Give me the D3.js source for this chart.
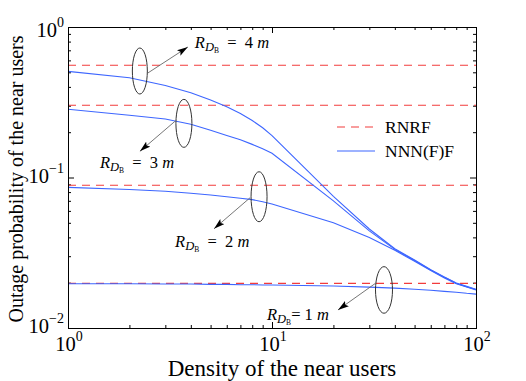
<!DOCTYPE html>
<html>
<head>
<meta charset="utf-8">
<script src="https://cdn.jsdelivr.net/npm/d3@7"></script>
<style>
  body { margin: 0; background: #fff; }
  svg { display: block; }
  svg text { font-family: 'Liberation Serif', 'Times New Roman', serif; fill: #000; }
  .frame { fill: none; stroke: #000; stroke-width: 1; }
  .tick-axis path { display: none; }
  .tick-axis line { stroke: #000; stroke-width: 1; }
  .rnrf { fill: none; stroke: #f23c3c; stroke-width: 1.1; stroke-dasharray: 8 6; }
  .nnnf { fill: none; stroke: #3d66ff; stroke-width: 1.1; }
  .ellipse { fill: none; stroke: #333; stroke-width: 1; }
  .arrow { stroke: #666; stroke-width: 0.9; }
</style>
</head>
<body>
<div id="chart"></div>
<script>
// x: density of the near users
const density = [1, 2, 3, 4, 5, 6, 7, 8, 9, 10, 20, 30, 40, 50, 60, 70, 80, 90, 100]

// NNN(F)F outage probability, one array per R_DB
const nnnR1 = [0.0197, 0.0197, 0.0196, 0.0196, 0.0195, 0.0195, 0.0194, 0.0194, 0.0193, 0.0193, 0.019, 0.0187, 0.0184, 0.0181, 0.0178, 0.0175, 0.0173, 0.017, 0.0168]
const nnnR2 = [0.086, 0.0832, 0.0811, 0.0785, 0.0765, 0.0744, 0.0728, 0.0713, 0.069, 0.0667, 0.050, 0.040, 0.0328, 0.0278, 0.0241, 0.0215, 0.0197, 0.0187, 0.0179]
const nnnR3 = [0.284, 0.259, 0.245, 0.226, 0.206, 0.19, 0.178, 0.166, 0.155, 0.145, 0.070, 0.0442, 0.0333, 0.0281, 0.0243, 0.0217, 0.0198, 0.0188, 0.018]
const nnnR4 = [0.507, 0.46, 0.409, 0.366, 0.327, 0.295, 0.266, 0.239, 0.214, 0.19, 0.075, 0.0455, 0.0336, 0.0283, 0.0244, 0.0218, 0.0199, 0.0189, 0.0181]

// RNRF outage probability (constant over density), R_DB = 1..4 m
const rnrf = [0.0198, 0.0888, 0.302, 0.557]

const xTickValues = [1, 10, 100]
const xTickExps = ['0', '1', '2']
const yTickValues = [1, 0.1, 0.01]
const yTickExps = ['0', '\u22121', '\u22122']

const legendNames = ['RNRF', 'NNN(F)F']

// ellipse annotations: centre in data units, distances in px
const notes = [
    { r: '1', cx: 35.4, cy: 0.0179, rx: 8.5, ry: 23.3, from: [-8, -7], to: [-46, 20], text: [-117, 30], tight: true },
    { r: '2', cx: 8.64, cy: 0.0745, rx: 8, ry: 25, from: [-9, 1], to: [-45, 32], text: [-84, 50] },
    { r: '3', cx: 3.70, cy: 0.229, rx: 8, ry: 24, from: [-9, -2], to: [-44, 28], text: [-84, 45] },
    { r: '4', cx: 2.25, cy: 0.51, rx: 7.5, ry: 23, from: [8, 2], to: [48, -24], text: [55, -23] }
]

const layout = { left: 68, top: 27, width: 408, height: 301 }

const svg = d3.select('#chart').append('svg')
    .attr('width', 526)
    .attr('height', 381)

const defs = svg.append('defs')
defs.append('marker')
    .attr('id', 'arrowhead')
    .attr('viewBox', '0 0 10 6')
    .attr('refX', 10).attr('refY', 3)
    .attr('markerWidth', 11).attr('markerHeight', 7)
    .attr('markerUnits', 'userSpaceOnUse')
    .attr('orient', 'auto')
    .append('path')
    .attr('d', 'M0,0 L10,3 L0,6 L2,3 Z')
    .attr('fill', '#000')

defs.append('clipPath').attr('id', 'clip-plot')
    .append('rect').attr('width', layout.width).attr('height', layout.height)

const g = svg.append('g')
    .attr('transform', 'translate(' + layout.left + ',' + layout.top + ')')

const xScale = d3.scaleLog().domain([1, 100]).range([0, layout.width])
const yScale = d3.scaleLog().domain([0.01, 1]).range([layout.height, 0])

const xMinor = xScale.ticks().filter((t) => !xTickValues.includes(t))
const yMinor = yScale.ticks().filter((t) => !yTickValues.includes(t))

// inward ticks on all four sides
const addTicks = (axisFn, scale, values, len, transform) => {
    g.append('g')
        .attr('class', 'tick-axis')
        .attr('transform', transform)
        .call(axisFn(scale).tickValues(values).tickSizeInner(-len).tickSizeOuter(0).tickFormat(''))
}
addTicks(d3.axisBottom, xScale, xTickValues, 6, 'translate(0,' + layout.height + ')')
addTicks(d3.axisBottom, xScale, xMinor, 3, 'translate(0,' + layout.height + ')')
addTicks(d3.axisTop, xScale, xTickValues, 6, 'translate(0,0)')
addTicks(d3.axisTop, xScale, xMinor, 3, 'translate(0,0)')
addTicks(d3.axisLeft, yScale, yTickValues, 6, 'translate(0,0)')
addTicks(d3.axisLeft, yScale, yMinor, 3, 'translate(0,0)')
addTicks(d3.axisRight, yScale, yTickValues, 6, 'translate(' + layout.width + ',0)')
addTicks(d3.axisRight, yScale, yMinor, 3, 'translate(' + layout.width + ',0)')

// tick labels 10^n
const xLabels = g.append('g').selectAll('text')
    .data(xTickValues)
    .enter()
    .append('text')
    .attr('x', (d) => xScale(d) + 1)
    .attr('y', layout.height + 23)
    .attr('text-anchor', 'middle')
    .attr('font-size', 20.5)
xLabels.append('tspan').text('10')
xLabels.append('tspan').attr('dy', -10).attr('font-size', 14).text((d, i) => xTickExps[i])

const yLabels = g.append('g').selectAll('text')
    .data(yTickValues)
    .enter()
    .append('text')
    .attr('x', -4)
    .attr('y', (d) => yScale(d) + (d === 1 ? 10 : 5))
    .attr('text-anchor', 'end')
    .attr('font-size', 20.5)
yLabels.append('tspan').text('10')
yLabels.append('tspan').attr('dy', -10).attr('font-size', 14).text((d, i) => yTickExps[i])

// axis titles
svg.append('text')
    .attr('x', 282)
    .attr('y', 376)
    .attr('text-anchor', 'middle')
    .attr('font-size', 23)
    .text('Density of the near users')

svg.append('text')
    .attr('transform', 'rotate(-90)')
    .attr('x', -179)
    .attr('y', 23)
    .attr('text-anchor', 'middle')
    .attr('font-size', 20)
    .text('Outage probability of the near users')

// curves
const plotG = g.append('g').attr('clip-path', 'url(#clip-plot)')

plotG.selectAll('.rnrf')
    .data(rnrf)
    .enter()
    .append('path')
    .attr('class', 'rnrf')
    .attr('d', (v) => d3.line()([[xScale(1), yScale(v)], [xScale(100), yScale(v)]]))

const line = d3.line()
    .x((d) => xScale(d[0]))
    .y((d) => yScale(d[1]))

plotG.selectAll('.nnnf')
    .data([nnnR1, nnnR2, nnnR3, nnnR4])
    .enter()
    .append('path')
    .attr('class', 'nnnf')
    .attr('d', (vals) => line(density.map((x, i) => [x, vals[i]])))

g.append('rect').attr('class', 'frame')
    .attr('x', 0.5).attr('y', 0.5)
    .attr('width', layout.width).attr('height', layout.height)

// annotations
const noteG = g.append('g')
notes.forEach((n) => {
    const cx = xScale(n.cx)
    const cy = yScale(n.cy)
    noteG.append('ellipse').attr('class', 'ellipse')
        .attr('cx', cx).attr('cy', cy).attr('rx', n.rx).attr('ry', n.ry)
    noteG.append('line').attr('class', 'arrow')
        .attr('x1', cx + n.from[0]).attr('y1', cy + n.from[1])
        .attr('x2', cx + n.to[0]).attr('y2', cy + n.to[1])
        .attr('marker-end', 'url(#arrowhead)')
    const t = noteG.append('text')
        .attr('x', cx + n.text[0])
        .attr('y', cy + n.text[1])
        .attr('font-size', 16.5)
        .style('white-space', 'pre')
    t.append('tspan').attr('font-style', 'italic').text('R')
    t.append('tspan').attr('font-style', 'italic').attr('font-size', 12.5).attr('dy', 3).text('D')
    t.append('tspan').attr('font-size', 7.5).attr('dy', 2).text('B')
    t.append('tspan').attr('dy', -5).text(n.tight ? '= ' + n.r + ' ' : '  =  ' + n.r + ' ')
    t.append('tspan').attr('font-style', 'italic').text('m')
})

// legend
const legend = svg.append('g').attr('transform', 'translate(337,127)')
legendNames.forEach((name, i) => {
    legend.append('line')
        .attr('class', i === 0 ? 'rnrf' : 'nnnf')
        .attr('x1', 0).attr('x2', 38)
        .attr('y1', i * 24).attr('y2', i * 24)
    legend.append('text')
        .attr('x', 48)
        .attr('y', i * 24 + 6)
        .attr('font-size', 17.5)
        .text(name)
})
</script>
</body>
</html>
